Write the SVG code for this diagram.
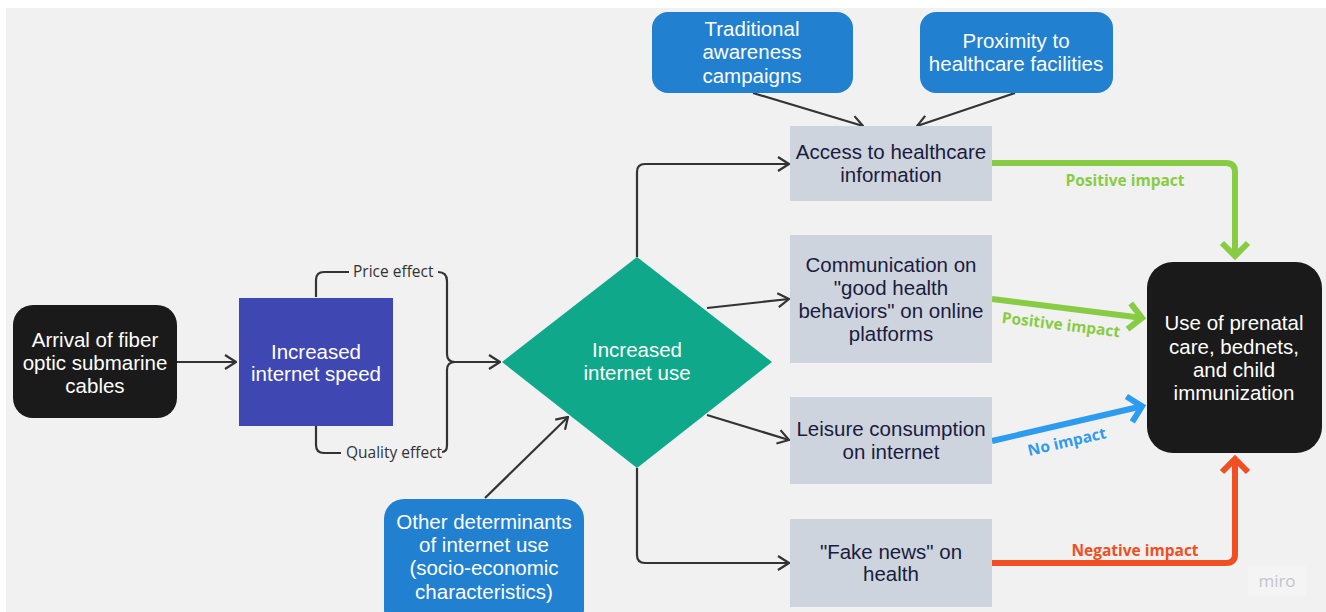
<svg xmlns="http://www.w3.org/2000/svg" width="1326" height="612" viewBox="0 0 1326 612">
<style>
.t{font-family:"Liberation Sans",Arial,sans-serif;font-size:20.5px;text-anchor:middle}
.w{fill:#ffffff}
.d{fill:#1b1b3d}
.s{font-family:"Open Sans","Noto Sans",sans-serif;font-size:15.5px;fill:#333333}
.lab{font-family:"Open Sans","Noto Sans",sans-serif;font-size:15.5px;font-weight:bold;text-anchor:middle}
.c{fill:none;stroke:#333333;stroke-width:2.2}
.gray{fill:#cdd4dd}
.blue{fill:#2180cf}
</style>
<defs>
<marker id="ah" viewBox="0 0 13 16" refX="12" refY="8" markerWidth="13" markerHeight="16" markerUnits="userSpaceOnUse" orient="auto">
<path d="M1,1 L12,8 L1,15" fill="none" stroke="#333333" stroke-width="2.2"/>
</marker>
<marker id="ag" viewBox="0 0 22 32" refX="17" refY="16" markerWidth="22" markerHeight="32" markerUnits="userSpaceOnUse" orient="auto">
<path d="M3,3 L16,16 L3,29" fill="none" stroke="#88cc44" stroke-width="6"/>
</marker>
<marker id="ab" viewBox="0 0 22 32" refX="17" refY="16" markerWidth="22" markerHeight="32" markerUnits="userSpaceOnUse" orient="auto">
<path d="M3,3 L16,16 L3,29" fill="none" stroke="#2d9cee" stroke-width="6"/>
</marker>
<marker id="ar" viewBox="0 0 22 32" refX="17" refY="16" markerWidth="22" markerHeight="32" markerUnits="userSpaceOnUse" orient="auto">
<path d="M3,3 L16,16 L3,29" fill="none" stroke="#f04e23" stroke-width="6"/>
</marker>
</defs>
<rect x="0" y="0" width="1326" height="612" fill="#ffffff"/>
<rect x="6" y="8" width="1320" height="604" fill="#f1f1f1"/>

<g id="connectors">
<path class="c" d="M177,362 H236" marker-end="url(#ah)"/>
<path class="c" d="M316,297 V280 Q316,272 324,272 H349"/>
<path class="c" d="M316,426 V445 Q316,453 324,453 H341"/>
<path class="c" d="M438,272 Q447,272 447,281 V354 Q447,362 455,362"/>
<path class="c" d="M442,452 Q447,452 447,445 V370 Q447,362 455,362 H500" marker-end="url(#ah)"/>
<path class="c" d="M637,257 V172 Q637,164 645,164 H789" marker-end="url(#ah)"/>
<path class="c" d="M707,308 L789,299" marker-end="url(#ah)"/>
<path class="c" d="M707,415 L789,440" marker-end="url(#ah)"/>
<path class="c" d="M637,468 V555 Q637,563 645,563 H789" marker-end="url(#ah)"/>
<path class="c" d="M485,498 L568,417" marker-end="url(#ah)"/>
<path class="c" d="M753,93 L863,126" marker-end="url(#ah)"/>
<path class="c" d="M1015,93 L917,126" marker-end="url(#ah)"/>
<path d="M992,163 H1226 Q1235,163 1235,172 V257" fill="none" stroke="#88cc44" stroke-width="6" marker-end="url(#ag)"/>
<path d="M992,299 L1143,318" fill="none" stroke="#88cc44" stroke-width="6" marker-end="url(#ag)"/>
<path d="M992,441 L1143,406" fill="none" stroke="#2d9cee" stroke-width="6" marker-end="url(#ab)"/>
<path d="M992,563 H1226 Q1235,563 1235,554 V458" fill="none" stroke="#f04e23" stroke-width="6" marker-end="url(#ar)"/>
<text class="s" x="353" y="277">Price effect</text>
<text class="s" x="346" y="458">Quality effect</text>
<text class="lab" x="1125" y="186" fill="#88cc44">Positive impact</text>
<text class="lab" x="1061" y="330" fill="#88cc44" transform="rotate(7 1061 325)">Positive impact</text>
<text class="lab" x="1067" y="447" fill="#2d9cee" transform="rotate(-13 1067 442)">No impact</text>
<text class="lab" x="1135" y="556" fill="#f04e23">Negative impact</text>
</g>

<g id="n-arrival">
<rect x="13" y="305" width="164" height="113" rx="20" fill="#1a1a1a"/>
<text class="t w" x="95" y="347">Arrival of fiber</text>
<text class="t w" x="95" y="370">optic submarine</text>
<text class="t w" x="95" y="393">cables</text>
</g>

<g id="n-speed">
<rect x="239" y="298" width="154" height="128" fill="#3f48b2"/>
<text class="t w" x="316" y="359">Increased</text>
<text class="t w" x="316" y="381">internet speed</text>
</g>

<g id="n-use">
<polygon points="637,257 772,362 637,468 502,362" fill="#0fa88a"/>
<text class="t w" x="637" y="357">Increased</text>
<text class="t w" x="637" y="380">internet use</text>
</g>

<g id="n-other">
<rect x="384" y="499" width="200" height="130" rx="20" class="blue"/>
<text class="t w" x="484" y="529">Other determinants</text>
<text class="t w" x="484" y="552">of internet use</text>
<text class="t w" x="484" y="575">(socio-economic</text>
<text class="t w" x="484" y="599">characteristics)</text>
</g>

<g id="n-traditional">
<rect x="652" y="12" width="201" height="81" rx="16" class="blue"/>
<text class="t w" x="752" y="36">Traditional</text>
<text class="t w" x="752" y="59">awareness</text>
<text class="t w" x="752" y="83">campaigns</text>
</g>

<g id="n-proximity">
<rect x="920" y="12" width="193" height="81" rx="16" class="blue"/>
<text class="t w" x="1016" y="48">Proximity to</text>
<text class="t w" x="1016" y="71">healthcare facilities</text>
</g>

<g id="n-access">
<rect x="790" y="126" width="202" height="75" class="gray"/>
<text class="t d" x="891" y="159">Access to healthcare</text>
<text class="t d" x="891" y="182">information</text>
</g>

<g id="n-communication">
<rect x="790" y="235" width="202" height="128" class="gray"/>
<text class="t d" x="891" y="272">Communication on</text>
<text class="t d" x="891" y="295">"good health</text>
<text class="t d" x="891" y="318">behaviors" on online</text>
<text class="t d" x="891" y="341">platforms</text>
</g>

<g id="n-leisure">
<rect x="790" y="397" width="202" height="87" class="gray"/>
<text class="t d" x="891" y="436">Leisure consumption</text>
<text class="t d" x="891" y="459">on internet</text>
</g>

<g id="n-fake">
<rect x="790" y="519" width="202" height="88" class="gray"/>
<text class="t d" x="891" y="559">"Fake news" on</text>
<text class="t d" x="891" y="581">health</text>
</g>

<g id="n-outcome">
<rect x="1147" y="262" width="175" height="191" rx="26" fill="#1a1a1a"/>
<text class="t w" x="1234" y="330">Use of prenatal</text>
<text class="t w" x="1234" y="354">care, bednets,</text>
<text class="t w" x="1234" y="377">and child</text>
<text class="t w" x="1234" y="400">immunization</text>
</g>

<g id="watermark">
<rect x="1248" y="566" width="58" height="30" fill="#f4f4f4"/>
<text x="1277" y="587" font-family="'Open Sans','Noto Sans',sans-serif" font-size="17" fill="#c4c4cc" text-anchor="middle">miro</text>
</g>
</svg>
